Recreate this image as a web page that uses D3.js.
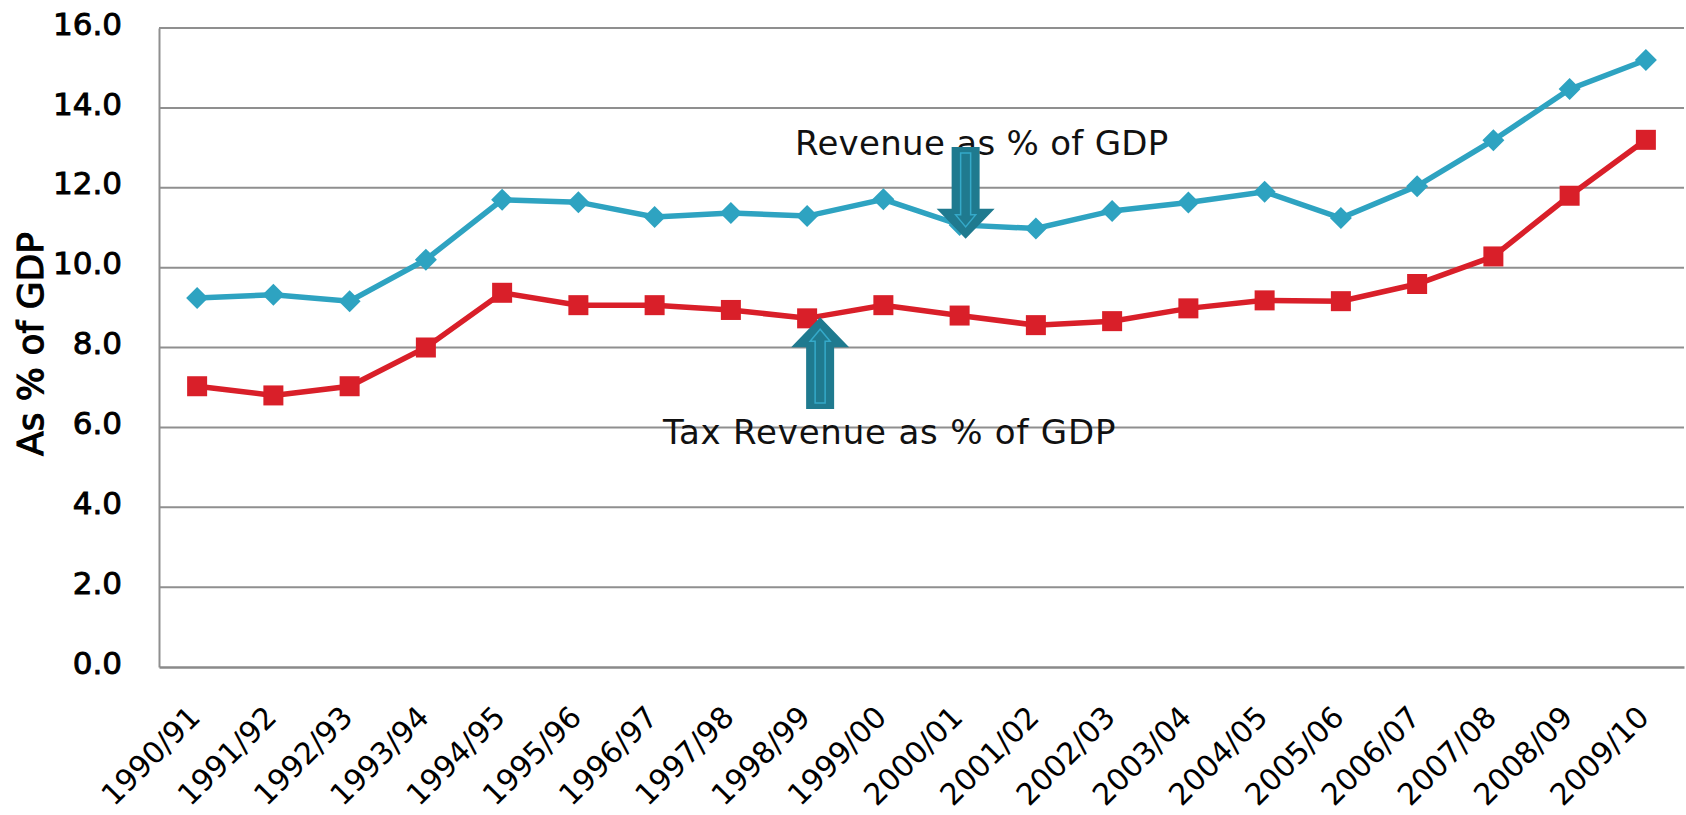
<!DOCTYPE html>
<html>
<head>
<meta charset="utf-8">
<script src="https://cdn.jsdelivr.net/npm/d3@7"></script>
<style>
  body { margin: 0; background: #fff; }
  text { font-family: "DejaVu Sans", sans-serif; }
</style>
</head>
<body>
<script>
var width = 1686;
var height = 815;

// chart data
var years = ["1990/91", "1991/92", "1992/93", "1993/94", "1994/95", "1995/96", "1996/97",
  "1997/98", "1998/99", "1999/00", "2000/01", "2001/02", "2002/03", "2003/04", "2004/05",
  "2005/06", "2006/07", "2007/08", "2008/09", "2009/10"];
var revenue = [9.24, 9.32, 9.16, 10.2, 11.7, 11.64, 11.27, 11.37, 11.29, 11.71, 11.07, 10.98,
  11.42, 11.63, 11.9, 11.24, 12.04, 13.19, 14.47, 15.2];
var taxRevenue = [7.03, 6.8, 7.03, 8.0, 9.37, 9.06, 9.06, 8.94, 8.73, 9.06, 8.8, 8.56,
  8.66, 8.98, 9.18, 9.16, 9.59, 10.28, 11.8, 13.2];
var yTicks = [0, 2, 4, 6, 8, 10, 12, 14, 16];

var blue = "#2ea3c1";
var red = "#d91f29";
var arrowFill = "#1f7a8f";

var svg = d3.select("body")
  .append("svg")
    .attr("width", width)
    .attr("height", height);

var x = d3.scaleBand()
  .domain(years)
  .range([159, 1684])
  .padding(0);

var y = d3.scaleLinear()
  .domain([0, 16])
  .range([667, 28]);

// gridlines
svg.append("g")
  .selectAll("line")
  .data(yTicks.filter(function(d) { return d > 0; }))
  .enter().append("line")
    .attr("x1", 159)
    .attr("x2", 1684)
    .attr("y1", function(d) { return y(d); })
    .attr("y2", function(d) { return y(d); })
    .attr("stroke", "#8f8f8f")
    .attr("stroke-width", 2);

// y axis
var yAxis = svg.append("g")
  .attr("transform", "translate(159,0)")
  .call(d3.axisLeft(y).tickValues(yTicks).tickSize(0).tickPadding(37)
    .tickFormat(d3.format(".1f")));
yAxis.select(".domain").attr("stroke", "#8f8f8f").attr("stroke-width", 2);
yAxis.selectAll("text")
  .attr("font-size", 31)
  .attr("fill", "#000")
  .attr("stroke", "#000")
  .attr("stroke-width", 0.9)
  .attr("dy", "0.2em")
  .style("font-family", "DejaVu Sans, sans-serif");

// x axis
var xAxis = svg.append("g")
  .attr("transform", "translate(0,667)")
  .call(d3.axisBottom(x).tickSize(0).tickFormat(""));
xAxis.select(".domain").attr("stroke", "#8a8a8a").attr("stroke-width", 2.5);

svg.append("g")
  .selectAll("text")
  .data(years)
  .enter().append("text")
    .attr("transform", function(d) {
      return "translate(" + (x(d) + x.bandwidth() / 2 + 5) + ",719) rotate(-45)";
    })
    .attr("text-anchor", "end")
    .attr("font-size", 30)
    .attr("fill", "#000")
    .text(function(d) { return d; });

// y axis title
svg.append("text")
  .attr("transform", "translate(43,344) rotate(-90)")
  .attr("text-anchor", "middle")
  .attr("font-size", 36)
  .attr("fill", "#000")
  .attr("stroke", "#000")
  .attr("stroke-width", 1.1)
  .text("As % of GDP");

// lines
var line = d3.line()
  .x(function(d, i) { return x(years[i]) + x.bandwidth() / 2; })
  .y(function(d) { return y(d); });

svg.append("path")
  .datum(revenue)
  .attr("fill", "none")
  .attr("stroke", blue)
  .attr("stroke-width", 5.5)
  .attr("d", line);

svg.append("path")
  .datum(taxRevenue)
  .attr("fill", "none")
  .attr("stroke", red)
  .attr("stroke-width", 5.5)
  .attr("d", line);

svg.append("g")
  .selectAll("path")
  .data(revenue)
  .enter().append("path")
    .attr("transform", function(d, i) {
      return "translate(" + (x(years[i]) + x.bandwidth() / 2) + "," + y(d) + ")";
    })
    .attr("d", "M0,-11L11,0L0,11L-11,0Z")
    .attr("fill", blue);

svg.append("g")
  .selectAll("rect")
  .data(taxRevenue)
  .enter().append("rect")
    .attr("x", function(d, i) { return x(years[i]) + x.bandwidth() / 2 - 10; })
    .attr("y", function(d) { return y(d) - 10; })
    .attr("width", 20)
    .attr("height", 20)
    .attr("fill", red);

// block arrows: tip at (tx,ty), shaft length len, dir 1 = down, -1 = up
function blockArrow(tx, ty, len, dir) {
  var hw = 29, sw = 14, hh = 30;
  var p = [
    [tx, ty],
    [tx - hw, ty - dir * hh],
    [tx - sw, ty - dir * hh],
    [tx - sw, ty - dir * len],
    [tx + sw, ty - dir * len],
    [tx + sw, ty - dir * hh],
    [tx + hw, ty - dir * hh]
  ];
  svg.append("path")
    .attr("d", d3.line()(p) + "Z")
    .attr("fill", arrowFill);
  // inner outline
  var q = [
    [tx, ty - dir * 12],
    [tx - 10, ty - dir * 24],
    [tx - 5, ty - dir * 24],
    [tx - 5, ty - dir * (len - 6)],
    [tx + 5, ty - dir * (len - 6)],
    [tx + 5, ty - dir * 24],
    [tx + 10, ty - dir * 24]
  ];
  svg.append("path")
    .attr("d", d3.line()(q) + "Z")
    .attr("fill", "none")
    .attr("stroke", "#35a9c9")
    .attr("stroke-width", 1.5);
}

// annotations
svg.append("text")
  .attr("x", 795)
  .attr("y", 155)
  .attr("font-size", 34)
  .attr("letter-spacing", 0.3)
  .attr("fill", "#111")
  .text("Revenue as % of GDP");

svg.append("text")
  .attr("x", 663)
  .attr("y", 444)
  .attr("font-size", 34)
  .attr("letter-spacing", 0.8)
  .attr("fill", "#111")
  .text("Tax Revenue as % of GDP");

blockArrow(x("2000/01") + x.bandwidth() / 2 + 6, y(10.72), y(10.72) - y(13.02), 1);
blockArrow(x("1998/99") + x.bandwidth() / 2 + 13, y(8.76), y(6.46) - y(8.76), -1);
</script>
</body>
</html>
